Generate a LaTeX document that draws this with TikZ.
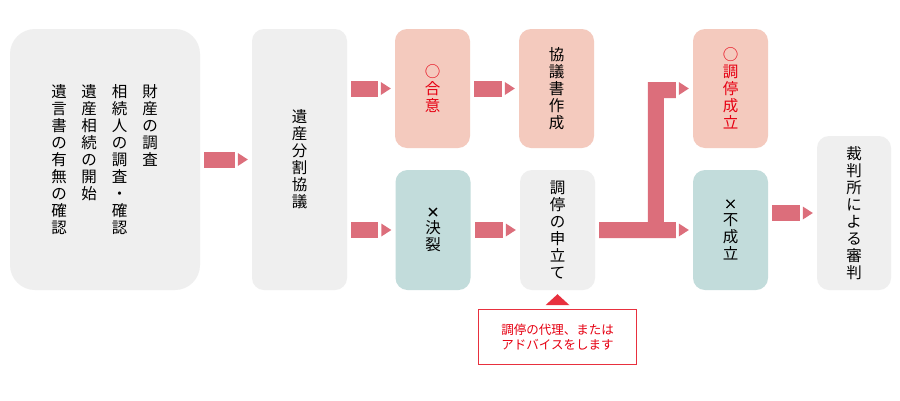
\documentclass[tikz,border=0pt]{standalone}
\usepackage{fontspec}
\setmainfont{Noto Sans CJK JP}[AutoFakeBold=2.5]
\usetikzlibrary{calc}
\definecolor{gbox}{HTML}{EFEFEF}
\definecolor{pbox}{HTML}{F4CABE}
\definecolor{tbox}{HTML}{C2DCDB}
\definecolor{arrc}{HTML}{DC6E7B}
\definecolor{jred}{HTML}{E60012}
\definecolor{nred}{HTML}{E8303E}
\newcommand\flowarr[2]{%
  \fill[arrc] ($(#1.east |- #2.west)+(4,-8)$) rectangle ($(#2.west)+(-17,8)$);
  \fill[arrc] ($(#2.west)+(-14,-6.5)$) -- ($(#2.west)+(-4,0)$) -- ($(#2.west)+(-14,6.5)$) -- cycle;}
\newcommand\tipto[1]{%
  \fill[arrc] ($(#1.west)+(-14,-6.5)$) -- ($(#1.west)+(-4,0)$) -- ($(#1.west)+(-14,6.5)$) -- cycle;}
\newcommand\xmark{{\fontsize{13}{17}\selectfont\bfseries ×}}
\begin{document}
\begin{tikzpicture}[x=1pt,y=-1pt,
  box/.style={rounded corners=12pt, inner sep=0pt, align=center,
    font=\fontsize{15.5}{17}\selectfont},
  col/.style={inner sep=0pt, align=center, font=\fontsize{15.5}{17}\selectfont}]
\useasboundingbox[fill=white] (0,0) rectangle (900,400);
% boxes
\node[box, rounded corners=25pt, fill=gbox, minimum width=190pt, minimum height=261pt] (b1) at (105,159.5) {};
\node[col] (c4) at (59,159.5) {遺\\言\\書\\の\\有\\無\\の\\確\\認};
\node[col, anchor=north] (c3) at (c4.north -| 89,0) {遺\\産\\相\\続\\の\\開\\始};
\node[col, anchor=north] (c2) at (c4.north -| 119.5,0) {相\\続\\人\\の\\調\\査\\・\\確\\認};
\node[col, anchor=north] (c1) at (c4.north -| 150,0) {財\\産\\の\\調\\査};
\node[box, fill=gbox, minimum width=95pt, minimum height=261pt] (b2) at (299.5,159.5) {遺\\産\\分\\割\\協\\議};
\node[box, fill=pbox, text=jred, minimum width=75pt, minimum height=119pt] (agree) at (432.5,88.5) {○\\合\\意};
\node[box, fill=pbox, minimum width=75pt, minimum height=119pt] (doc) at (556.5,88.5) {協\\議\\書\\作\\成};
\node[box, fill=tbox, minimum width=75pt, minimum height=120pt] (split) at (433,230) {\xmark\\決\\裂};
\node[box, fill=gbox, minimum width=75pt, minimum height=120pt] (apply) at (557.5,230) {調\\停\\の\\申\\立\\て};
\node[box, fill=pbox, text=jred, minimum width=75pt, minimum height=119pt] (ok) at (730.5,88.5) {○\\調\\停\\成\\立};
\node[box, fill=tbox, minimum width=75pt, minimum height=120pt] (ng) at (730.5,230) {\xmark\\不\\成\\立};
\node[box, fill=gbox, minimum width=74pt, minimum height=154pt] (court) at (854,213) {裁\\判\\所\\に\\よ\\る\\審\\判};
% arrows
\flowarr{b1}{b2}
\flowarr{b2}{agree}
\flowarr{b2}{split}
\flowarr{agree}{doc}
\flowarr{split}{apply}
\flowarr{ng}{court}
% T connector
\fill[arrc] ($(apply.east)+(4,-8)$) -- ($(ng.west)+(-45,-8)$) -- ($(ok.west)+(-45,-6.5)$)
  -- ($(ok.west)+(-17,-6.5)$) -- ($(ok.west)+(-17,9.5)$) -- ($(ok.west)+(-29,9.5)$)
  -- ($(ng.west)+(-29,-8)$) -- ($(ng.west)+(-17,-8)$) -- ($(ng.west)+(-17,8)$)
  -- ($(apply.east)+(4,8)$) -- cycle;
\tipto{ok}
\tipto{ng}
% note
\fill[nred] ($(apply.south)+(0,4)$) -- ++(12,11) -- ++(-24,0) -- cycle;
\node[draw=nred, line width=1.5pt, minimum width=158pt, minimum height=55pt, text=jred,
  align=center, font=\fontsize{12.5}{15.5}\selectfont] (note) at (557.5,337) {調停の代理、または\\アドバイスをします};
\end{tikzpicture}
\end{document}
